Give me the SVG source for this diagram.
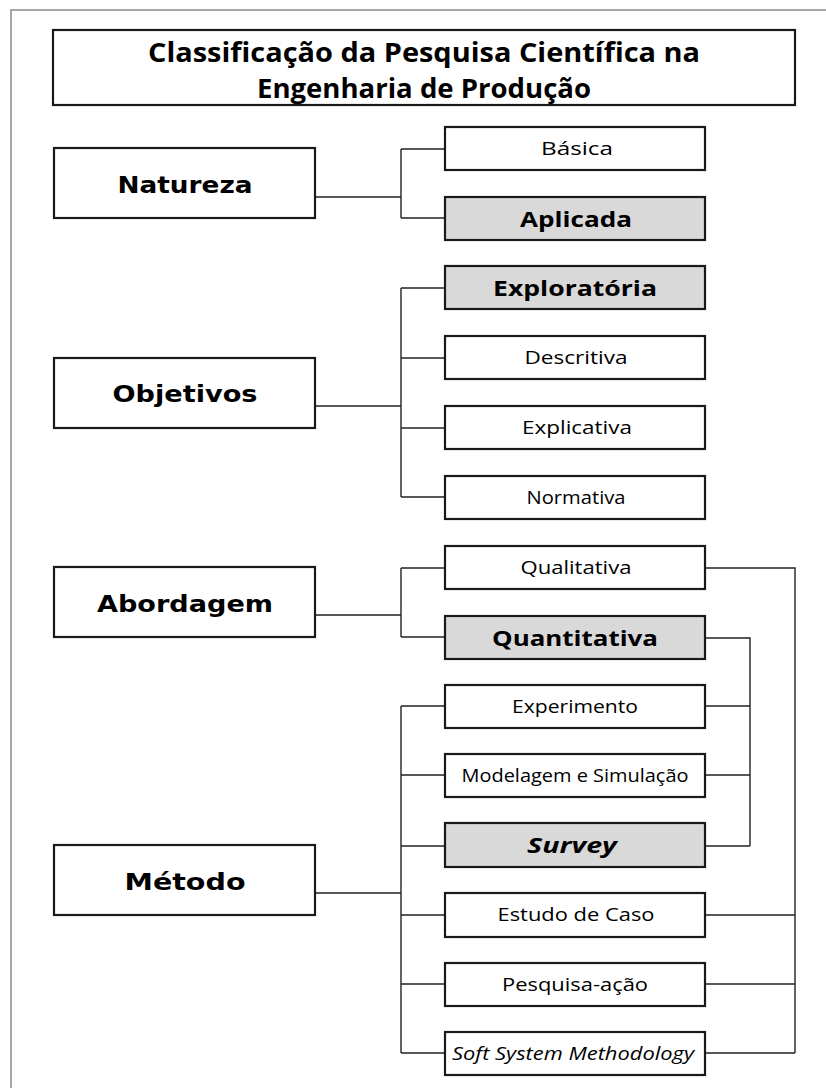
<svg xmlns="http://www.w3.org/2000/svg" width="826" height="1088" viewBox="0 0 826 1088">
<style>
.frame{fill:none;stroke:#8a8a8a;stroke-width:1.5}
.box{fill:#ffffff;stroke:#1a1a1a;stroke-width:2.2}
.sel{fill:#d9d9d9;stroke:#1a1a1a;stroke-width:2.2}
.conn{fill:none;stroke:#222;stroke-width:1.4}
.title{font-family:"Open Sans","Liberation Sans",sans-serif;font-weight:bold;font-size:26px;fill:#000;text-anchor:middle}
.main{font-family:"DejaVu Sans","Open Sans",sans-serif;font-weight:bold;font-size:23px;fill:#000;text-anchor:middle}
.lbl{font-family:"Open Sans","Liberation Sans",sans-serif;font-size:18px;fill:#000;text-anchor:middle}
.blbl{font-family:"Open Sans","Liberation Sans",sans-serif;font-weight:bold;font-size:21px;fill:#000;text-anchor:middle}
</style>
<rect x="0" y="0" width="826" height="1088" fill="#ffffff"/>
<rect class="frame" x="11" y="10" width="900" height="1200"/>

<g id="title">
<rect class="box" x="53" y="30" width="742" height="75"/>
<text class="title" x="424" y="62" textLength="552" lengthAdjust="spacingAndGlyphs">Classificação da Pesquisa Científica na</text>
<text class="title" x="424" y="98" textLength="334" lengthAdjust="spacingAndGlyphs">Engenharia de Produção</text>
</g>

<g id="connectors">
<path class="conn" d="M315,197 H401 M401,149 V218 M401,149 H445 M401,218 H445"/>
<path class="conn" d="M315,406 H401 M401,288 V497 M401,288 H445 M401,358 H445 M401,428 H445 M401,497 H445"/>
<path class="conn" d="M315,615 H401 M401,568 V637 M401,568 H445 M401,637 H445"/>
<path class="conn" d="M315,893 H401 M401,706 V1053 M401,706 H445 M401,775 H445 M401,846 H445 M401,915 H445 M401,984 H445 M401,1053 H445"/>
<path class="conn" d="M705,568 H795 V1053 M705,915 H795 M705,984 H795 M705,1053 H795"/>
<path class="conn" d="M705,638 H750 V846 M705,706 H750 M705,775 H750 M705,846 H750"/>
</g>

<g id="natureza">
<rect class="box" x="54" y="148" width="261" height="70"/>
<text class="main" x="185" y="193" textLength="135" lengthAdjust="spacingAndGlyphs">Natureza</text>
</g>
<g id="objetivos">
<rect class="box" x="54" y="358" width="261" height="70"/>
<text class="main" x="185" y="402" textLength="145" lengthAdjust="spacingAndGlyphs">Objetivos</text>
</g>
<g id="abordagem">
<rect class="box" x="54" y="567" width="261" height="70"/>
<text class="main" x="185" y="612" textLength="176" lengthAdjust="spacingAndGlyphs">Abordagem</text>
</g>
<g id="metodo">
<rect class="box" x="54" y="845" width="261" height="70"/>
<text class="main" x="185" y="890" textLength="121" lengthAdjust="spacingAndGlyphs">Método</text>
</g>

<g id="basica">
<rect class="box" x="445" y="127" width="260" height="43"/>
<text class="lbl" x="577" y="155" textLength="72" lengthAdjust="spacingAndGlyphs">Básica</text>
</g>
<g id="aplicada">
<rect class="sel" x="445" y="197" width="260" height="43"/>
<text class="blbl" x="576" y="227" textLength="112" lengthAdjust="spacingAndGlyphs">Aplicada</text>
</g>
<g id="exploratoria">
<rect class="sel" x="445" y="266" width="260" height="43"/>
<text class="blbl" x="575" y="296" textLength="164" lengthAdjust="spacingAndGlyphs">Exploratória</text>
</g>
<g id="descritiva">
<rect class="box" x="445" y="336" width="260" height="43"/>
<text class="lbl" x="576" y="364" textLength="103" lengthAdjust="spacingAndGlyphs">Descritiva</text>
</g>
<g id="explicativa">
<rect class="box" x="445" y="406" width="260" height="43"/>
<text class="lbl" x="577" y="434" textLength="110" lengthAdjust="spacingAndGlyphs">Explicativa</text>
</g>
<g id="normativa">
<rect class="box" x="445" y="476" width="260" height="43"/>
<text class="lbl" x="576" y="504" textLength="99" lengthAdjust="spacingAndGlyphs">Normativa</text>
</g>
<g id="qualitativa">
<rect class="box" x="445" y="546" width="260" height="43"/>
<text class="lbl" x="576" y="574" textLength="111" lengthAdjust="spacingAndGlyphs">Qualitativa</text>
</g>
<g id="quantitativa">
<rect class="sel" x="445" y="616" width="260" height="43"/>
<text class="blbl" x="575" y="646" textLength="166" lengthAdjust="spacingAndGlyphs">Quantitativa</text>
</g>
<g id="experimento">
<rect class="box" x="445" y="685" width="260" height="43"/>
<text class="lbl" x="575" y="713" textLength="126" lengthAdjust="spacingAndGlyphs">Experimento</text>
</g>
<g id="modelagem">
<rect class="box" x="445" y="754" width="260" height="43"/>
<text class="lbl" x="575" y="782" textLength="227" lengthAdjust="spacingAndGlyphs">Modelagem e Simulação</text>
</g>
<g id="survey">
<rect class="sel" x="445" y="823" width="260" height="44"/>
<text class="blbl" x="572" y="853" font-style="italic" textLength="90" lengthAdjust="spacingAndGlyphs">Survey</text>
</g>
<g id="estudo">
<rect class="box" x="445" y="893" width="260" height="44"/>
<text class="lbl" x="576" y="921" textLength="157" lengthAdjust="spacingAndGlyphs">Estudo de Caso</text>
</g>
<g id="pesquisa-acao">
<rect class="box" x="445" y="963" width="260" height="43"/>
<text class="lbl" x="575" y="991" textLength="146" lengthAdjust="spacingAndGlyphs">Pesquisa-ação</text>
</g>
<g id="ssm">
<rect class="box" x="445" y="1032" width="260" height="43"/>
<text class="lbl" x="573" y="1060" font-style="italic" textLength="242" lengthAdjust="spacingAndGlyphs">Soft System Methodology</text>
</g>
</svg>
